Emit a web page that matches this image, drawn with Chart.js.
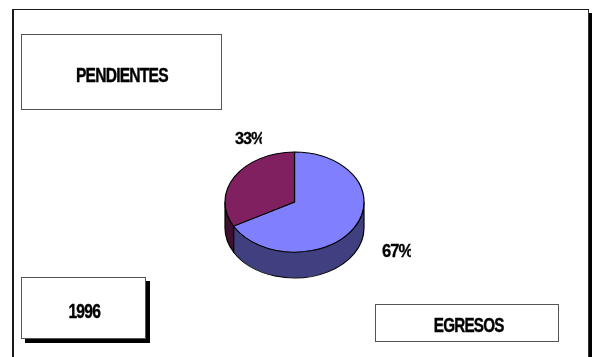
<!DOCTYPE html>
<html>
<head>
<meta charset="utf-8">
<script src="https://cdn.jsdelivr.net/npm/chart.js@4/dist/chart.umd.min.js"></script>
<style>
  html,body{margin:0;padding:0;background:#fff;}
  #wrap{position:relative;width:592px;height:357px;overflow:hidden;background:#fff;}
  #c{position:absolute;left:0;top:0;}
  .frame{position:absolute;left:12px;top:9px;width:574px;height:400px;border-left:2px solid #1a1a1a;border-top:1.5px solid #1a1a1a;border-right:1px solid #333;box-shadow:4px 4px 0 #000;}
  .box{position:absolute;border:1.5px solid #555;background:#fff;box-sizing:border-box;}
  .shadow{box-shadow:4px 4px 0 #000;}
  .lbl{position:absolute;text-align:center;line-height:1;font-family:"Liberation Sans",Arial,sans-serif;font-weight:bold;color:#000;white-space:nowrap;}
  .lbl span{display:inline-block;transform:scaleX(0.78);letter-spacing:-1px;-webkit-text-stroke:0.4px #000;}
  .pct{position:absolute;overflow:hidden;line-height:1;font-family:"Liberation Sans",Arial,sans-serif;font-weight:bold;color:#000;white-space:nowrap;}
  .pct span{display:inline-block;transform:scaleX(0.95);transform-origin:left center;letter-spacing:-1px;-webkit-text-stroke:0.3px #000;}
</style>
</head>
<body>
<div id="wrap">
  <div class="frame"></div>
  <div class="box" style="left:21px;top:34px;width:201px;height:76px;"></div>
  <div class="box shadow" style="left:21px;top:277px;width:125px;height:62px;"></div>
  <div class="box" style="left:375px;top:304px;width:184px;height:38px;"></div>
  <canvas id="c" width="592" height="357"></canvas>
  <div class="lbl" id="tPend" style="left:22px;width:200px;top:65px;font-size:20px;"><span></span></div>
  <div class="lbl" id="tYear" style="left:22px;width:124px;top:301px;font-size:20px;"><span></span></div>
  <div class="lbl" id="tEgr" style="left:376px;width:186px;top:315.5px;font-size:19.5px;"><span></span></div>
  <div class="pct" id="p1" style="left:235px;top:129.8px;width:27px;height:20px;font-size:17px;"><span></span></div>
  <div class="pct" id="p0" style="left:382px;top:242.7px;width:29px;height:20px;font-size:17.5px;"><span></span></div>
</div>
<script>
const categories = ['EGRESOS', 'PENDIENTES'];
const values = [67, 33];
const yearLabel = '1996';
const topColors = ['#8080ff', '#802060'];
const sideColors = ['#404080', '#401030'];

const SY = 50 / 69.5;   // vertical squash of the pie (tilt)
const DEPTH = 26;       // thickness of the pie in screen px

const pie3d = {
  id: 'pie3d',
  beforeDatasetsDraw(chart) {
    const ctx = chart.ctx;
    const arcs = chart.getDatasetMeta(0).data;
    const cx = arcs[0].x, cy = arcs[0].y;
    ctx.save();
    ctx.translate(cx, cy);
    ctx.scale(1, SY);
    ctx.translate(-cx, -cy);
    const d = DEPTH / SY;
    arcs.forEach((a, i) => {
      const p = a.getProps(['startAngle', 'endAngle', 'outerRadius'], true);
      const r = p.outerRadius;
      for (const off of [0, 2 * Math.PI]) {
        const s = Math.max(p.startAngle, off);
        const e = Math.min(p.endAngle, off + Math.PI);
        if (e <= s) continue;
        ctx.beginPath();
        ctx.arc(cx, cy, r, s, e);
        ctx.arc(cx, cy + d, r, e, s, true);
        ctx.closePath();
        ctx.fillStyle = sideColors[i];
        ctx.fill();
        ctx.lineWidth = 1.2;
        ctx.strokeStyle = '#000';
        ctx.stroke();
      }
    });
  },
  afterDatasetsDraw(chart) {
    chart.ctx.restore();
  }
};

new Chart(document.getElementById('c'), {
  type: 'pie',
  data: {
    labels: categories,
    datasets: [{
      data: values,
      backgroundColor: topColors,
      borderColor: '#000',
      borderWidth: 1.2,
      clip: false
    }]
  },
  options: {
    responsive: false,
    animation: false,
    radius: 69.5,
    layout: { padding: { left: 225, right: 228, top: 132.5, bottom: 85.5 } },
    plugins: { legend: { display: false }, tooltip: { enabled: false } }
  },
  plugins: [pie3d]
});

const total = values.reduce((a, b) => a + b, 0);
document.querySelector('#tPend span').textContent = categories[1];
document.querySelector('#tEgr span').textContent = categories[0];
document.querySelector('#tYear span').textContent = yearLabel;
document.querySelector('#p0 span').textContent = Math.round(values[0] / total * 100) + '%';
document.querySelector('#p1 span').textContent = Math.round(values[1] / total * 100) + '%';
</script>
</body>
</html>
